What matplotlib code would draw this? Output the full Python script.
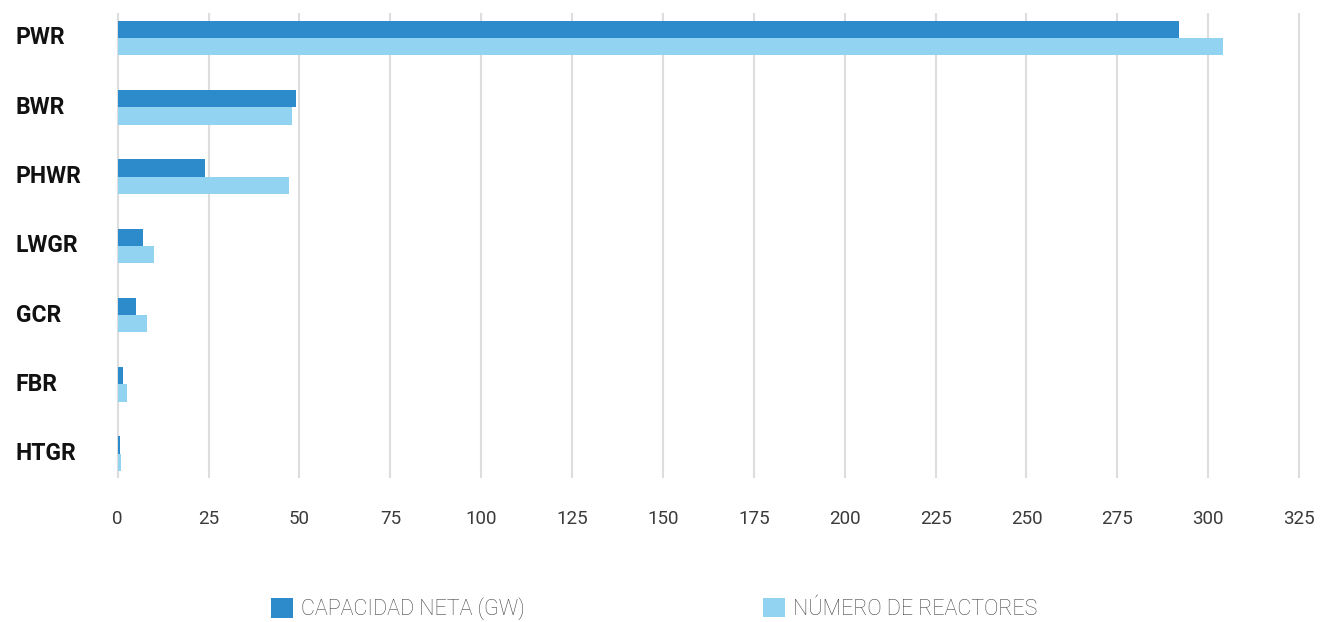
import matplotlib
matplotlib.use("Agg")
import matplotlib.pyplot as plt
from matplotlib.patches import Patch
import numpy as np

# Reactor types and their values
reactor_types = ["PWR", "BWR", "PHWR", "LWGR", "GCR", "FBR", "HTGR"]
net_capacity_gw = [292, 49, 24, 7, 5, 1.4, 0.5]
reactor_count = [304, 48, 47, 10, 8, 2.5, 0.8]
x_ticks = list(range(0, 326, 25))

series_labels = ["CAPACIDAD NETA (GW)", "NÚMERO DE REACTORES"]
series_colors = ["#2E8BCB", "#93D3F2"]

W, H, DPI = 1323, 622, 100
fig = plt.figure(figsize=(W / DPI, H / DPI), dpi=DPI)

# axes placement in pixels
px_per_unit = 3.635
x0_px = 117.7
xmin, xmax = -1.0, 326.0
left_px = x0_px + xmin * px_per_unit
right_px = x0_px + xmax * px_per_unit
top_px, bottom_px = 13, 478
ax = fig.add_axes([left_px / W, 1 - bottom_px / H,
                   (right_px - left_px) / W, (bottom_px - top_px) / H])

y = np.arange(len(reactor_types))
bar_h = 0.25
ax.barh(y - bar_h / 2, net_capacity_gw, height=bar_h, color=series_colors[0],
        zorder=3, linewidth=0)
ax.barh(y + bar_h / 2, reactor_count, height=bar_h, color=series_colors[1],
        zorder=3, linewidth=0)

ax.set_xlim(xmin, xmax)
ax.set_ylim(6.35, -0.36)

ax.set_xticks(x_ticks)
ax.set_xticklabels([str(t) for t in x_ticks], fontfamily="Roboto",
                   fontweight="normal", fontsize=13.5, color="#3a3a3a")
ax.tick_params(axis="x", length=0, pad=23)
ax.grid(axis="x", color="#dddddd", linewidth=1.5, zorder=0)

ax.set_yticks(y)
ax.set_yticklabels(reactor_types, fontfamily="Roboto", fontweight="bold",
                   fontsize=16.5, color="#111111", ha="left",
                   va="center")
ax.tick_params(axis="y", length=0, pad=(left_px - 16) * 72 / DPI)
for lbl in ax.get_yticklabels():
    lbl.set_y(lbl.get_position()[1])

for s in ax.spines.values():
    s.set_visible(False)

# legend entries placed side by side
legend_font = {"family": "Roboto", "weight": "light", "size": 15.5}
positions = [271, 763]
for label, color, xpos in zip(series_labels, series_colors, positions):
    leg = fig.legend(handles=[Patch(facecolor=color, edgecolor="none", label=label)],
                     loc="center left", bbox_to_anchor=(xpos / W, 1 - 609 / H),
                     frameon=False, borderpad=0, borderaxespad=0,
                     handlelength=1.0, handleheight=1.0, handletextpad=0.4,
                     prop=legend_font)
    for t in leg.get_texts():
        t.set_color("#444444")

fig.savefig("out.png", dpi=DPI)
